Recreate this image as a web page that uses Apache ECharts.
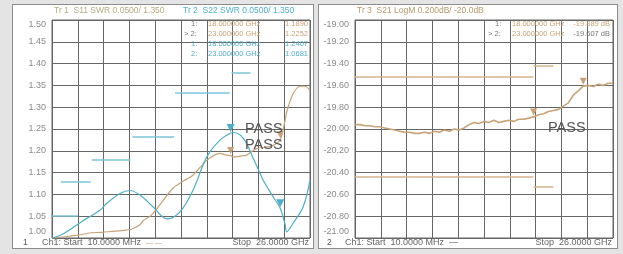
<!DOCTYPE html>
<html>
<head>
<meta charset="utf-8">
<style>
html,body{margin:0;padding:0;background:#e4e4e4;}
#wrap{position:relative;width:623px;height:254px;overflow:hidden;}
.panel{position:absolute;background:#fff;border:1px solid #8c8c8c;box-sizing:border-box;}
#main{position:absolute;left:0;top:0;width:623px;height:254px;}
</style>
<script src="https://cdn.jsdelivr.net/npm/echarts@6/dist/echarts.min.js"></script>
</head>
<body>
<div id="wrap">
  <div class="panel" style="left:12px;top:4px;width:302px;height:245px;"></div>
  <div class="panel" style="left:318px;top:4px;width:300px;height:245px;"></div>
  <div id="main"></div>
</div>
<script>
// 迹线 1: S11 SWR (GHz / SWR)
var s11Freq = [0.01, 1, 2, 3, 4, 5, 6, 7, 8, 8.8, 9.2, 10, 11, 12.2, 13.2, 14.2, 15.6, 16.9, 17.6, 18, 18.3, 19, 19.6, 20.6, 22, 22.5, 23, 23.4, 23.7, 24.3, 25, 25.5, 26];
var s11Val  = [1.000, 1.002, 1.005, 1.008, 1.012, 1.013, 1.015, 1.017, 1.020, 1.029, 1.040, 1.052, 1.080, 1.114, 1.130, 1.144, 1.178, 1.194, 1.190, 1.189, 1.186, 1.188, 1.190, 1.205, 1.210, 1.215, 1.2252, 1.260, 1.293, 1.331, 1.348, 1.348, 1.338];

// 迹线 2: S22 SWR
var s22Freq = [0.01, 1, 2.5, 3.5, 4.8, 5.5, 6.85, 7.86, 8.9, 10.2, 11.6, 12.9, 14.2, 15.6, 16.9, 18, 18.3, 19.3, 20.3, 21.3, 22.3, 23, 23.5, 23.65, 24.3, 25.3, 26];
var s22Val  = [1.000, 1.008, 1.030, 1.045, 1.063, 1.079, 1.102, 1.109, 1.098, 1.071, 1.044, 1.060, 1.109, 1.186, 1.224, 1.2407, 1.242, 1.228, 1.182, 1.132, 1.094, 1.0681, 1.030, 1.014, 1.034, 1.071, 1.132];

// S22 限制线
var s22LimStart = [0.01, 0.9, 4.0, 8.1, 12.4, 18.1];
var s22LimStop  = [2.6, 3.9, 7.9, 12.3, 17.9, 20.0];
var s22LimVal   = [1.05, 1.13, 1.18, 1.233, 1.333, 1.38];

// 迹线 3: S21 LogM (dB)
var s21Freq = [0.01, 0.5, 1, 1.5, 2, 2.5, 3, 3.5, 4, 4.5, 5, 5.5, 6, 6.5, 7, 7.5, 8, 8.5, 9, 9.5, 10, 10.5, 11, 11.5, 12, 12.5, 13, 13.5, 14, 14.5, 15, 15.5, 16, 16.5, 17, 17.5, 18, 18.5, 19, 19.5, 20, 20.5, 21, 21.5, 22, 22.5, 23, 23.5, 24, 24.5, 25, 25.5, 26];
var s21Val  = [-19.96, -19.96, -19.97, -19.97, -19.98, -19.98, -19.99, -20.00, -20.01, -20.02, -20.03, -20.03, -20.04, -20.04, -20.03, -20.04, -20.02, -20.03, -20.01, -20.02, -20.00, -20.01, -19.99, -19.96, -19.94, -19.95, -19.93, -19.94, -19.92, -19.94, -19.93, -19.92, -19.93, -19.91, -19.91, -19.90, -19.889, -19.87, -19.86, -19.84, -19.83, -19.82, -19.79, -19.76, -19.69, -19.65, -19.607, -19.60, -19.61, -19.59, -19.60, -19.58, -19.58];

// S21 限制线
var s21LimStart = [0.01, 18, 0.01, 18];
var s21LimStop  = [18, 20, 18, 20];
var s21LimVal   = [-19.525, -19.42, -20.44, -20.53];

// 标记
var markerFreq = [18, 23];
var s11Marker = [1.1890, 1.2252];
var s22Marker = [1.2407, 1.0681];
var s21Marker = [-19.889, -19.607];

var TAN = '#c9a275', TEAL = '#4eaec8', GRID = '#666666', LBL = '#8a8a8a';
var FONT = 'Liberation Sans';

function zip(a, b) { return a.map(function (v, i) { return [v, b[i]]; }); }
function limits(s, e, v) {
  return s.map(function (x, i) { return [{ coord: [x, v[i]] }, { coord: [e[i], v[i]] }]; });
}
function markers(vals, color) {
  return markerFreq.map(function (f, i) {
    return { coord: [f, vals[i]], itemStyle: { color: color } };
  });
}
function yLabel(lo, hi) {
  return {
    color: LBL, fontSize: 9, fontFamily: FONT, margin: 6,
    formatter: function (v) {
      var t = v.toFixed(2);
      if (Math.abs(v - hi) < 1e-6) return '{t|' + t + '}';
      if (Math.abs(v - lo) < 1e-6) return '{b|' + t + '}';
      return t;
    },
    rich: { t: { padding: [10, 0, 0, 0], color: LBL, fontSize: 9, fontFamily: FONT },
            b: { padding: [0, 0, 12, 0], color: LBL, fontSize: 9, fontFamily: FONT } }
  };
}
function xAxisCfg(idx) {
  return { gridIndex: idx, type: 'value', min: 0, max: 26, interval: 2.6,
    axisLabel: { show: false }, axisTick: { show: false }, axisLine: { show: false },
    splitLine: { lineStyle: { color: GRID, width: 1 } } };
}

var myChart = echarts.init(document.getElementById('main'));

function txt(x, y, s, color, size, align, weight) {
  return { type: 'text', x: x, y: y, z: 100,
    style: { text: s, fill: color, fontSize: size || 9, fontFamily: FONT, fontWeight: weight || 'normal',
      align: align || 'left', verticalAlign: 'middle' } };
}

var option = {
  animation: false,
  grid: [
    { left: 52, top: 20, width: 258, height: 218, show: true, borderColor: '#666', borderWidth: 1, backgroundColor: 'transparent' },
    { left: 355, top: 20, width: 258, height: 218, show: true, borderColor: '#666', borderWidth: 1, backgroundColor: 'transparent' }
  ],
  xAxis: [xAxisCfg(0), xAxisCfg(1)],
  yAxis: [
    { gridIndex: 0, type: 'value', min: 1.0, max: 1.5, interval: 0.05, axisLabel: yLabel(1.0, 1.5),
      axisTick: { show: false }, axisLine: { show: false }, splitLine: { lineStyle: { color: GRID, width: 1 } } },
    { gridIndex: 1, type: 'value', min: -21, max: -19, interval: 0.2, axisLabel: yLabel(-21, -19),
      axisTick: { show: false }, axisLine: { show: false }, splitLine: { lineStyle: { color: GRID, width: 1 } } }
  ],
  series: [
    {
      name: 'S11', type: 'line', xAxisIndex: 0, yAxisIndex: 0, data: zip(s11Freq, s11Val),
      smooth: 0.3, showSymbol: false, lineStyle: { color: TAN, width: 1.2 }, itemStyle: { color: TAN },
      markPoint: { symbol: 'triangle', symbolSize: 7, symbolRotate: 180, symbolOffset: [0, -5],
        label: { show: false }, data: markers(s11Marker, TAN) }
    },
    {
      name: 'S22', type: 'line', xAxisIndex: 0, yAxisIndex: 0, data: zip(s22Freq, s22Val),
      smooth: 0.35, showSymbol: false, lineStyle: { color: TEAL, width: 1.2 }, itemStyle: { color: TEAL },
      markLine: { silent: true, symbol: ['none', 'none'], label: { show: false },
        lineStyle: { color: '#7cc6d8', width: 1.5, type: 'solid' }, data: limits(s22LimStart, s22LimStop, s22LimVal) },
      markPoint: { symbol: 'triangle', symbolSize: 8, symbolRotate: 180, symbolOffset: [0, -5],
        label: { show: false }, data: markers(s22Marker, TEAL) }
    },
    {
      name: 'S21', type: 'line', xAxisIndex: 1, yAxisIndex: 1, data: zip(s21Freq, s21Val),
      showSymbol: false, lineStyle: { color: TAN, width: 1.6 }, itemStyle: { color: TAN },
      markLine: { silent: true, symbol: ['none', 'none'], label: { show: false },
        lineStyle: { color: '#d6b48c', width: 1.5, type: 'solid' }, data: limits(s21LimStart, s21LimStop, s21LimVal) },
      markPoint: { symbol: 'triangle', symbolSize: 7, symbolRotate: 180, symbolOffset: [0, -5],
        label: { show: false }, data: markers(s21Marker, TAN) }
    }
  ],
  graphic: [
    txt(54, 11, 'Tr 1  S11 SWR 0.0500/ 1.350', '#b3aa80', 8.5),
    txt(183, 11, 'Tr 2  S22 SWR 0.0500/ 1.350', TEAL, 8.5),
    txt(357, 11, 'Tr 3  S21 LogM 0.200dB/ -20.0dB', '#b39a6a', 8.5),

    // 左侧标记表
    txt(191, 24, '1:', '#777', 7.5), txt(208, 24, '18.000000 GHz', TAN, 7.5), txt(308, 24, '1.1890', TAN, 7.5, 'right'),
    txt(184, 34, '> 2:', '#777', 7.5), txt(208, 34, '23.000000 GHz', TAN, 7.5), txt(308, 34, '1.2252', TAN, 7.5, 'right'),
    txt(191, 44, '1:', TEAL, 7.5), txt(208, 44, '18.000000 GHz', TEAL, 7.5), txt(308, 44, '1.2407', TEAL, 7.5, 'right'),
    txt(191, 54, '2:', TEAL, 7.5), txt(208, 54, '23.000000 GHz', TEAL, 7.5), txt(308, 54, '1.0681', TEAL, 7.5, 'right'),

    // 右侧标记表
    txt(495, 24, '1:', '#777', 7.5), txt(512, 24, '18.000000 GHz', TAN, 7.5), txt(610, 24, '-19.889 dB', TAN, 7.5, 'right'),
    txt(488, 34, '> 2:', '#777', 7.5), txt(512, 34, '23.000000 GHz', TAN, 7.5), txt(610, 34, '-19.607 dB', '#777', 7.5, 'right'),

    // PASS
    txt(245, 129, 'PASS', '#555', 14.5), txt(245, 145, 'PASS', '#555', 14.5),
    txt(548, 128, 'PASS', '#555', 14.5),

    // 底部
    txt(23, 243, '1', '#555', 8.5), txt(42, 243, 'Ch1: Start  10.0000 MHz', '#666', 9),
    txt(146, 243, '— —', TAN, 7), txt(309, 243, 'Stop  26.0000 GHz', '#666', 9, 'right'),
    txt(327, 243, '2', '#555', 8.5), txt(345, 243, 'Ch1: Start  10.0000 MHz  —', '#666', 9),
    txt(612, 243, 'Stop  26.0000 GHz', '#666', 9, 'right')
  ]
};

myChart.setOption(option);
</script>
</body>
</html>
